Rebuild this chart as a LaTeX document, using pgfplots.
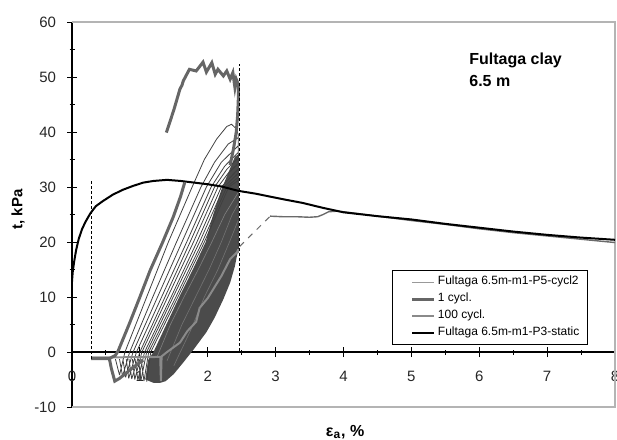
\documentclass[border=0pt]{standalone}
\usepackage{fontspec}
\setmainfont{Liberation Sans}
\usepackage{pgfplots}
\pgfplotsset{compat=1.18}
\definecolor{fanc}{HTML}{404040}
\definecolor{densec}{HTML}{4B4B4B}
\definecolor{onec}{HTML}{666666}
\definecolor{hundc}{HTML}{8A8A8A}
\definecolor{tailc}{HTML}{6A6A6A}
\definecolor{framec}{HTML}{B4B4B4}
\begin{document}
\begin{tikzpicture}
\begin{axis}[
  scale only axis, width=271.5pt, height=192.5pt,
  xmin=0, xmax=8, ymin=-10, ymax=60,
  axis lines=middle, axis line style={-, black, line width=0.6pt},
  hide obscured x ticks=false, hide obscured y ticks=false,
  xtick={0,1,...,8}, ytick={-10,0,10,...,60},
  minor x tick num=1, minor y tick num=1,
  tick align=center, major tick length=5pt, minor tick length=2.5pt,
  tick style={black, line width=0.5pt},
  /pgf/number format/assume math mode=true,
  tick label style={font=\fontsize{7.5}{9}\selectfont, text=black!85},
  xticklabel style={yshift=-3.5pt},
  yticklabel style={xshift=-2pt},
  clip=false,
  legend style={at={(rel axis cs:0.95,0.357)}, anchor=north east, draw=black, line width=0.5pt, fill=white,
    font=\fontsize{6}{6.8}\selectfont, inner xsep=3pt, inner ysep=2.5pt, row sep=1.4pt, cells={anchor=west},
    nodes={inner ysep=0.6pt, inner xsep=1pt}},
  legend image code/.code={\path (0pt,0pt); \draw[#1] (6pt,0pt) -- (17pt,0pt);},
]
% frame
\draw[framec, line width=0.75pt] (rel axis cs:0,0) -- (rel axis cs:1,0) -- (rel axis cs:1,1) -- (rel axis cs:0,1);
\coordinate (SW) at (rel axis cs:0,0);
\coordinate (NE) at (rel axis cs:1,1);

\addlegendimage{color=black!40, line width=0.5pt}\addlegendentry{Fultaga 6.5m-m1-P5-cycl2}
\addlegendimage{color=onec, line width=1.5pt}\addlegendentry{1 cycl.}
\addlegendimage{color=hundc, line width=1pt}\addlegendentry{100 cycl.}
\addlegendimage{color=black, line width=1pt}\addlegendentry{Fultaga 6.5m-m1-P3-static}

% dense region of the many later cycles
\addplot[forget plot, draw=none, fill=densec] coordinates {
(1.30,-5.6) (1.38,-5.3) (1.50,-4.0) (1.64,-1.9) (1.80,0.6) (1.98,3.6) (2.10,6.2) (2.23,9.6)
(2.33,12.6) (2.40,15.6) (2.45,18.7) (2.46,18.7) (2.46,36) (2.40,35.5) (2.30,32.5) (2.20,29.5)
(2.08,25) (1.97,20) (1.78,15) (1.58,10) (1.39,5) (1.20,0) (1.12,-1.5) (1.08,-5.0) (1.20,-5.6) (1.30,-5.6)};

% light streaks inside the dense region
\addplot[forget plot, color=black!50, line width=0.3pt] coordinates {
(1.25,-1) (1.45,5) (1.65,10) (1.86,15) (2.06,20) (2.25,25) (2.45,29)};
\addplot[forget plot, color=black!55, line width=0.3pt] coordinates {
(1.40,-1.6) (1.62,5) (1.82,10) (2.02,15) (2.20,20) (2.36,25) (2.45,27)};
\addplot[forget plot, color=black!55, line width=0.3pt] coordinates {
(1.50,-2.5) (1.75,4) (1.95,10) (2.15,15) (2.32,20) (2.45,24)};

% thin cyclic loops (P5-cycl2)
\addplot[forget plot, color=fanc, line width=0.4pt, unbounded coords=jump] coordinates {
(0.70,-4.2) (0.78,0) (1.10,10) (1.42,20) (1.77,30) (1.95,35) (2.13,38.7) (2.28,41.0) (2.35,41.4) (2.42,40.6) (2.45,39.5) (2.45,18)
(2.45,nan)
(0.745,-4.4) (0.85,0) (1.19,10) (1.54,20) (1.90,30) (2.10,34.5) (2.30,37.8) (2.45,39)
(2.45,nan)
(0.79,-4.6) (0.90,0) (1.26,10) (1.62,20) (1.98,30) (2.20,34.5) (2.45,37.5)
(2.45,nan)
(0.835,-4.8) (0.95,0) (1.32,10) (1.69,20) (2.05,30) (2.25,33.8) (2.45,36.3)
(2.45,nan)
(0.88,-4.9) (1.00,0) (1.37,10) (1.74,20) (2.10,30) (2.28,33.2) (2.45,35.3)
(2.45,nan)
(0.925,-5.0) (1.03,0) (1.41,10) (1.79,20) (2.15,30) (2.30,32.5) (2.45,34.3)
(2.45,nan)
(0.97,-5.1) (1.07,0) (1.46,10) (1.84,20) (2.20,30) (2.45,33.3)
(2.45,nan)
(1.015,-5.2) (1.10,0) (1.49,10) (1.88,20) (2.24,30) (2.45,32.5)
(2.45,nan)
(1.06,-5.3) (1.13,0) (1.53,10) (1.92,20) (2.28,30) (2.45,31.8)
(2.45,nan)
(1.10,-5.4) (1.16,0) (1.56,10) (1.95,20) (2.31,30) (2.45,31.2)
(2.45,nan)
(0.64,-1.3) (0.70,-4.2)
(2.45,nan)
(0.70,-1.3) (0.745,-4.4)
(2.45,nan)
(0.75,-1.3) (0.79,-4.6)
(2.45,nan)
(0.80,-1.3) (0.835,-4.8)
(2.45,nan)
(0.84,-1.3) (0.88,-4.9)
(2.45,nan)
(0.89,-1.3) (0.925,-5.0)
(2.45,nan)
(0.93,-1.3) (0.97,-5.1)
(2.45,nan)
(0.98,-1.3) (1.015,-5.2)
(2.45,nan)
(1.02,-1.3) (1.06,-5.3)
};
% tail of cyclic test after cycling
\addplot[forget plot, color=tailc, line width=0.5pt, dashed] coordinates {(2.47,19.2) (2.92,24.7)};
\addplot[forget plot, color=tailc, line width=0.7pt] coordinates {
(2.92,24.7) (3.10,24.6) (3.30,24.6) (3.50,24.5) (3.62,24.6) (3.70,25.0) (3.78,25.5) (3.90,25.6) (4.00,25.5)
(4.50,24.7) (5.00,23.9) (5.50,23.2) (6.00,22.4) (6.50,21.7) (7.00,21.1) (7.50,20.5) (8.00,19.9)};

% 100 cycl.
\addplot[forget plot, color=hundc, line width=1pt] coordinates {
(0.28,-1.0) (1.30,-0.9) (1.31,-5.3) (1.32,-0.8) (1.39,-0.1) (1.59,1.7) (1.70,3.8) (1.83,5.5) (1.88,8.0)
(2.00,9.8) (2.08,11.4) (2.20,13.8) (2.33,16.9) (2.43,18.1) (2.45,18.7)};

% 1 cycl.
\addplot[forget plot, color=onec, line width=1.5pt] coordinates {
(0.28,-1.2) (0.55,-1.2) (0.58,-3.0) (0.63,-5.3) (0.70,-4.8) (0.80,-3.8) (0.90,-2.8) (1.00,-1.9) (1.05,-1.5)};
\addplot[forget plot, color=onec, line width=1.5pt] coordinates {
(0.55,-1.2) (0.64,-0.6) (0.68,0.2) (0.85,5.3) (1.00,10.0) (1.15,14.8) (1.33,19.8) (1.49,24.5) (1.60,28.3) (1.66,30.8)};
\addplot[forget plot, color=onec, line width=1.5pt] coordinates {
(1.39,39.9) (1.50,44.0) (1.59,47.8) (1.62,48.5) (1.64,49.3) (1.73,51.4) (1.83,51.1) (1.93,52.7) (1.98,50.9)
(2.06,52.6) (2.11,50.5) (2.15,51.4) (2.23,50.2) (2.28,51.1) (2.33,49.6) (2.37,50.8) (2.40,48.1) (2.42,49.6)
(2.45,48.7) (2.45,46.0) (2.44,43.0) (2.42,40.0) (2.38,37.0) (2.33,34.0)};

% dashed limits
\addplot[forget plot, color=black, line width=0.45pt, dash pattern=on 1.5pt off 1pt] coordinates {(0.28,-1.2) (0.28,31.1)};
\addplot[forget plot, color=black, line width=0.45pt, dash pattern=on 1.5pt off 1pt] coordinates {(2.46,0.2) (2.46,52.3)};

% static test
\addplot[forget plot, color=black, line width=1pt] coordinates {
(0,12.8) (0.01,14.5) (0.03,16.3) (0.06,18.5) (0.10,20.6) (0.15,22.4) (0.20,23.7) (0.27,25.2) (0.35,26.5)
(0.45,27.4) (0.60,28.6) (0.75,29.5) (0.90,30.2) (1.05,30.8) (1.20,31.1) (1.40,31.3) (1.60,31.1) (1.80,30.8)
(2.00,30.5) (2.20,30.1) (2.45,29.3) (2.70,28.8) (2.90,28.3) (3.10,27.8) (3.40,27.1) (3.70,26.2) (4.00,25.4)
(4.50,24.7) (5.00,24.1) (5.50,23.3) (6.00,22.6) (6.50,21.9) (7.00,21.3) (7.50,20.8) (8.00,20.4)};

\node[anchor=north west, align=left, font=\bfseries\fontsize{8}{11}\selectfont] at (axis cs:5.75,55.6) {Fultaga clay\\6.5 m};
\node[rotate=90, font=\bfseries\fontsize{7.5}{9}\selectfont] at ([xshift=-27pt]rel axis cs:0,0.513) {t, kPa};
\node[anchor=base, font=\bfseries\fontsize{8}{9}\selectfont] at ([yshift=-14.5pt]rel axis cs:0.503,0) {ε\textsubscript{a}, \%};
\end{axis}
\pgfresetboundingbox
\path[use as bounding box] ([xshift=-36pt,yshift=-16pt]SW) rectangle ([xshift=1pt,yshift=11pt]NE);
\end{tikzpicture}
\end{document}
